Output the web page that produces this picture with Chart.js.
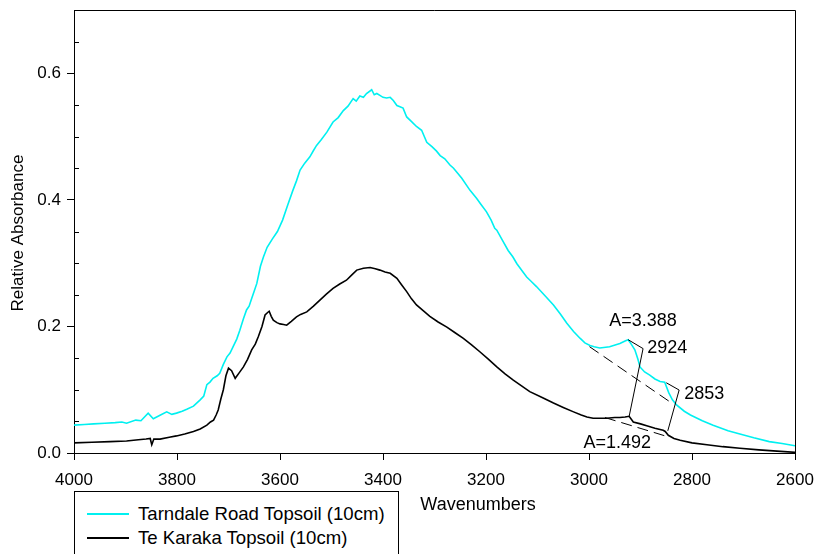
<!DOCTYPE html>
<html>
<head>
<meta charset="utf-8">
<script src="https://cdn.jsdelivr.net/npm/chart.js@4.4.1/dist/chart.umd.min.js"></script>
<style>
  html, body { margin: 0; padding: 0; background: #fff; }
  #wrap { position: relative; width: 815px; height: 554px; overflow: hidden; }
  #c { position: absolute; left: 0; top: 0; }
  #legend { position: absolute; left: 74px; top: 491px; width: 325px; height: 90px;
            border: 1px solid #000; background: #fff; font-family: "Liberation Sans", Arial, sans-serif;
            font-size: 18.6px; color: #000; box-sizing: border-box; }
  .item { position: absolute; left: 0; height: 22px; line-height: 22px; white-space: nowrap; }
  .swatch { position: absolute; left: 12px; top: 10px; width: 42px; height: 0; border-top: 2px solid; }
  .lbl { position: absolute; left: 63px; top: 0; }
</style>
</head>
<body>
<div id="wrap">
  <canvas id="c" width="815" height="554"></canvas>
  <div id="legend">
    <div class="item" style="top:11px"><span class="swatch" style="border-color:#00f0f0"></span><span class="lbl">Tarndale Road Topsoil (10cm)</span></div>
    <div class="item" style="top:35px"><span class="swatch" style="border-color:#000"></span><span class="lbl">Te Karaka Topsoil (10cm)</span></div>
  </div>
</div>
<script>
// ---- data ----
const seriesNames = ["Tarndale Road Topsoil (10cm)", "Te Karaka Topsoil (10cm)"];
const xTicks = [4000, 3800, 3600, 3400, 3200, 3000, 2800, 2600];
const yTicks = [0.0, 0.2, 0.4, 0.6];
const yMinorTicks = [0.05, 0.1, 0.15, 0.25, 0.3, 0.35, 0.45, 0.5, 0.55, 0.65];

const tarndaleWn = [4000,3980,3962,3940,3920,3907,3898,3880,3870,3856,3846,3832,3820,3810,3801,3790,3781,3768,3755,3748,3742,3736,3730,3722,3717,3710,3703,3697,3691,3684,3678,3671,3665,3660,3655,3650,3645,3638,3632,3625,3615,3605,3595,3585,3575,3568,3561,3552,3542,3535,3529,3520,3509,3497,3487,3477,3468,3458,3452,3445,3438,3432,3422,3417,3412,3406,3400,3393,3386,3380,3373,3367,3361,3354,3345,3335,3325,3315,3305,3296,3289,3280,3270,3263,3257,3247,3231,3218,3210,3199,3190,3183,3179,3168,3157,3148,3140,3130,3121,3112,3102,3085,3069,3056,3043,3030,3017,3008,2998,2990,2979,2960,2940,2930,2924,2918,2911,2905,2901,2892,2882,2872,2862,2853,2845,2838,2830,2815,2803,2780,2759,2730,2707,2680,2650,2625,2600];
const tarndaleAbs = [0.044,0.045,0.046,0.047,0.048,0.049,0.047,0.052,0.051,0.063,0.054,0.060,0.065,0.061,0.063,0.066,0.069,0.074,0.084,0.090,0.108,0.112,0.118,0.122,0.126,0.140,0.152,0.158,0.168,0.180,0.194,0.212,0.226,0.232,0.244,0.256,0.268,0.295,0.310,0.325,0.338,0.350,0.368,0.392,0.415,0.430,0.447,0.458,0.468,0.478,0.486,0.495,0.507,0.523,0.530,0.541,0.548,0.560,0.556,0.564,0.562,0.568,0.574,0.566,0.568,0.565,0.562,0.561,0.562,0.557,0.549,0.547,0.545,0.531,0.524,0.516,0.510,0.491,0.484,0.477,0.470,0.465,0.455,0.450,0.444,0.434,0.415,0.402,0.393,0.381,0.368,0.355,0.352,0.336,0.320,0.310,0.299,0.288,0.278,0.271,0.263,0.248,0.234,0.220,0.205,0.192,0.181,0.174,0.170,0.168,0.166,0.168,0.173,0.177,0.179,0.172,0.163,0.148,0.136,0.128,0.123,0.117,0.113,0.112,0.095,0.084,0.076,0.066,0.060,0.051,0.044,0.035,0.030,0.024,0.018,0.015,0.0115];

const tekarakaWn = [4000,3965,3930,3898,3875,3860,3852,3849,3845,3833,3815,3801,3785,3768,3755,3742,3735,3729,3724,3720,3715,3710,3705,3700,3694,3687,3679,3671,3663,3655,3648,3642,3635,3629,3624,3621,3617,3613,3606,3600,3593,3587,3578,3568,3560,3548,3535,3522,3510,3497,3484,3471,3461,3451,3438,3425,3415,3406,3396,3386,3373,3364,3354,3345,3335,3322,3309,3293,3276,3260,3244,3228,3212,3195,3179,3163,3147,3131,3115,3092,3069,3050,3030,3015,3004,2992,2979,2966,2950,2940,2930,2922,2914,2900,2888,2872,2856,2852,2846,2835,2823,2800,2771,2740,2707,2670,2635,2600];
const tekarakaAbs = [0.016,0.017,0.018,0.019,0.021,0.022,0.023,0.013,0.022,0.022,0.025,0.027,0.030,0.034,0.038,0.044,0.049,0.052,0.060,0.068,0.085,0.100,0.122,0.134,0.130,0.118,0.127,0.136,0.148,0.163,0.172,0.184,0.200,0.218,0.222,0.224,0.216,0.210,0.206,0.204,0.203,0.202,0.208,0.215,0.219,0.223,0.232,0.242,0.251,0.260,0.267,0.273,0.281,0.289,0.292,0.293,0.291,0.289,0.286,0.284,0.276,0.266,0.255,0.244,0.234,0.225,0.216,0.207,0.199,0.190,0.181,0.171,0.160,0.148,0.136,0.125,0.115,0.106,0.097,0.088,0.079,0.072,0.065,0.060,0.057,0.055,0.055,0.055,0.056,0.056,0.057,0.058,0.049,0.046,0.043,0.039,0.036,0.034,0.028,0.023,0.020,0.016,0.013,0.010,0.0075,0.005,0.003,0.001];

// annotation geometry in data units [wavenumber, absorbance]
const baselineUpper = [[2999, 0.168], [2836, 0.077]];
const baselineLower = [[2969, 0.056], [2852, 0.027]];
const connector2924 = [[2924, 0.179], [2895, 0.165], [2922, 0.058]];
const connector2853 = [[2850, 0.111], [2825, 0.0995], [2847, 0.035]];
const annotationTexts = [
  { text: "A=3.388", at: [2895, 0.209], align: "center" },
  { text: "2924",    at: [2887, 0.166], align: "left" },
  { text: "2853",    at: [2815, 0.093], align: "left" },
  { text: "A=1.492", at: [2945, 0.015], align: "center" }
];

const FONT = '"Liberation Sans", Arial, sans-serif';

function pts(wn, ab) { return wn.map((w, i) => ({ x: w, y: ab[i] })); }

const decor = {
  id: 'decor',
  afterDatasetsDraw(chart) {
    const { ctx, chartArea: a, scales: { x, y } } = chart;
    const P = p => [x.getPixelForValue(p[0]), y.getPixelForValue(p[1])];
    ctx.save();
    ctx.strokeStyle = '#000';
    ctx.lineWidth = 1;
    // top and right frame
    ctx.beginPath();
    ctx.moveTo(a.left, a.top + 0.5); ctx.lineTo(a.right + 0.5, a.top + 0.5);
    ctx.lineTo(a.right + 0.5, a.bottom);
    ctx.stroke();
    // minor y ticks (inside)
    ctx.beginPath();
    yMinorTicks.forEach(v => {
      const py = Math.round(y.getPixelForValue(v)) + 0.5;
      ctx.moveTo(a.left, py); ctx.lineTo(a.left + 5, py);
    });
    ctx.stroke();
    // dashed baselines
    ctx.setLineDash([11, 6]);
    [baselineUpper, baselineLower].forEach(l => {
      ctx.beginPath();
      const p0 = P(l[0]), p1 = P(l[1]);
      ctx.moveTo(p0[0], p0[1]); ctx.lineTo(p1[0], p1[1]);
      ctx.stroke();
    });
    ctx.setLineDash([]);
    // connectors
    [connector2924, connector2853].forEach(l => {
      ctx.beginPath();
      l.forEach((p, i) => { const q = P(p); if (i) ctx.lineTo(q[0], q[1]); else ctx.moveTo(q[0], q[1]); });
      ctx.stroke();
    });
    // labels
    ctx.fillStyle = '#000';
    ctx.font = '18px ' + FONT;
    ctx.textBaseline = 'middle';
    annotationTexts.forEach(t => {
      const q = P(t.at);
      ctx.textAlign = t.align;
      ctx.fillText(t.text, q[0], q[1]);
    });
    // axis titles
    ctx.textAlign = 'center';
    ctx.fillText('Wavenumbers', 478, 505);
    ctx.save();
    ctx.translate(18, 233);
    ctx.rotate(-Math.PI / 2);
    ctx.font = '17px ' + FONT;
    ctx.fillText('Relative Absorbance', 0, 0);
    ctx.restore();
    ctx.restore();
  }
};

new Chart(document.getElementById('c'), {
  type: 'line',
  data: {
    datasets: [
      { label: seriesNames[0], data: pts(tarndaleWn, tarndaleAbs), borderColor: '#00f0f0', borderWidth: 1.6, pointRadius: 0, fill: false },
      { label: seriesNames[1], data: pts(tekarakaWn, tekarakaAbs), borderColor: '#000000', borderWidth: 1.6, pointRadius: 0, fill: false }
    ]
  },
  plugins: [decor],
  options: {
    responsive: false,
    animation: false,
    layout: { padding: { left: 0, right: 20, top: 10, bottom: 0 } },
    plugins: { legend: { display: false }, tooltip: { enabled: false } },
    elements: { line: { tension: 0 } },
    scales: {
      x: {
        type: 'linear', reverse: true, min: 2600, max: 4000,
        afterFit: s => { s.height = 101; s.paddingLeft = 0; s.paddingRight = 0; },
        afterBuildTicks: s => { s.ticks = xTicks.map(v => ({ value: v })); },
        ticks: { callback: v => String(v), color: '#000', font: { family: FONT, size: 17 }, padding: 10, maxRotation: 0, autoSkip: false },
        grid: { drawOnChartArea: false, drawTicks: true, tickLength: 7, color: '#000', lineWidth: 1 },
        border: { display: true, color: '#000', width: 1 }
      },
      y: {
        min: 0, max: 0.7,
        afterFit: s => { s.width = 74; s.paddingTop = 0; s.paddingBottom = 0; },
        afterBuildTicks: s => { s.ticks = yTicks.map(v => ({ value: v })); },
        ticks: { callback: v => Number(v).toFixed(1), color: '#000', font: { family: FONT, size: 17 }, padding: 6 },
        grid: { drawOnChartArea: false, drawTicks: true, tickLength: 7, color: '#000', lineWidth: 1 },
        border: { display: true, color: '#000', width: 1 }
      }
    }
  }
});
</script>
</body>
</html>
